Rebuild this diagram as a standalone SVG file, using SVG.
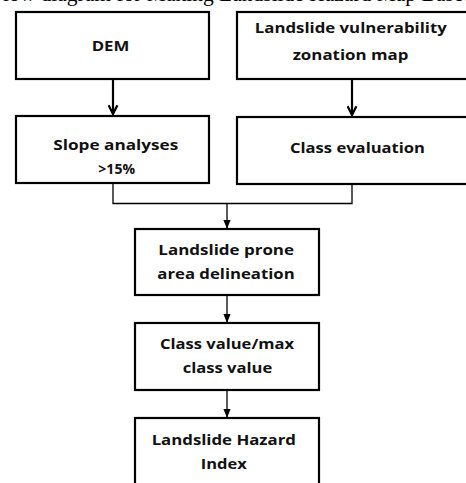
<svg xmlns="http://www.w3.org/2000/svg" width="466" height="483" viewBox="0 0 466 483">
<defs>
<style>
.box{fill:#fff;stroke:#000;stroke-width:2.2}
.t{font-family:"Open Sans","Noto Sans","Liberation Sans",sans-serif;font-weight:bold;font-size:13.5px;fill:#111;text-anchor:middle}
.c1{fill:none;stroke:#000;stroke-width:2.2}
.c2{fill:none;stroke:#000;stroke-width:1.3}
.cap{font-family:"Liberation Serif","Times New Roman",serif;font-size:21.5px;fill:#000}
</style>
<marker id="ah" viewBox="0 0 10 10" refX="9" refY="5" markerWidth="5" markerHeight="5" orient="auto" markerUnits="strokeWidth"><path d="M1,1 L9,5 L1,9" fill="none" stroke="#000" stroke-width="2"/></marker>
<marker id="ah2" viewBox="0 0 10 10" refX="9" refY="5" markerWidth="7" markerHeight="7" orient="auto" markerUnits="strokeWidth"><path d="M0,1 L10,5 L0,9 Z" fill="#000"/></marker>
</defs>
<rect width="466" height="483" fill="#fff"/>
<text class="cap" x="-9" y="0.5">Flow diagram for Making Landslide Hazard Map Based</text>
<g id="connectors">
<path class="c1" d="M113,79 V114" marker-end="url(#ah)"/>
<path class="c1" d="M352,79 V115" marker-end="url(#ah)"/>
<path class="c2" d="M113,183 V203.5 H352 V184"/>
<path class="c2" d="M227,203.5 V228" marker-end="url(#ah2)"/>
<path class="c2" d="M227,296 V322" marker-end="url(#ah2)"/>
<path class="c2" d="M227,391 V417" marker-end="url(#ah2)"/>
</g>
<g id="dem"><rect class="box" x="16" y="12" width="193" height="67"/><text class="t" x="110.5" y="51" textLength="37.7" lengthAdjust="spacingAndGlyphs">DEM</text></g>
<g id="lvzm"><rect class="box" x="237" y="12" width="240" height="67"/><text class="t" x="350.8" y="33" textLength="192" lengthAdjust="spacingAndGlyphs">Landslide vulnerability</text><text class="t" x="350.5" y="60" textLength="115.7" lengthAdjust="spacingAndGlyphs">zonation map</text></g>
<g id="slope"><rect class="box" x="16" y="116" width="193" height="67"/><text class="t" x="115.8" y="150" textLength="125" lengthAdjust="spacingAndGlyphs">Slope analyses</text><text class="t" x="116.7" y="174" textLength="36.7" lengthAdjust="spacingAndGlyphs">&gt;15%</text></g>
<g id="classeval"><rect class="box" x="237" y="117" width="240" height="67"/><text class="t" x="357.5" y="153" textLength="135" lengthAdjust="spacingAndGlyphs">Class evaluation</text></g>
<g id="prone"><rect class="box" x="135" y="229" width="184" height="66"/><text class="t" x="226.2" y="255" textLength="135.7" lengthAdjust="spacingAndGlyphs">Landslide prone</text><text class="t" x="226" y="279" textLength="137.3" lengthAdjust="spacingAndGlyphs">area delineation</text></g>
<g id="classvalue"><rect class="box" x="135" y="323" width="184" height="67"/><text class="t" x="227" y="349" textLength="134" lengthAdjust="spacingAndGlyphs">Class value/max</text><text class="t" x="227.5" y="373" textLength="89.7" lengthAdjust="spacingAndGlyphs">class value</text></g>
<g id="lhi"><rect class="box" x="135" y="418" width="184" height="80"/><text class="t" x="223.8" y="445" textLength="144.3" lengthAdjust="spacingAndGlyphs">Landslide Hazard</text><text class="t" x="223.7" y="469" textLength="46" lengthAdjust="spacingAndGlyphs">Index</text></g>
</svg>
